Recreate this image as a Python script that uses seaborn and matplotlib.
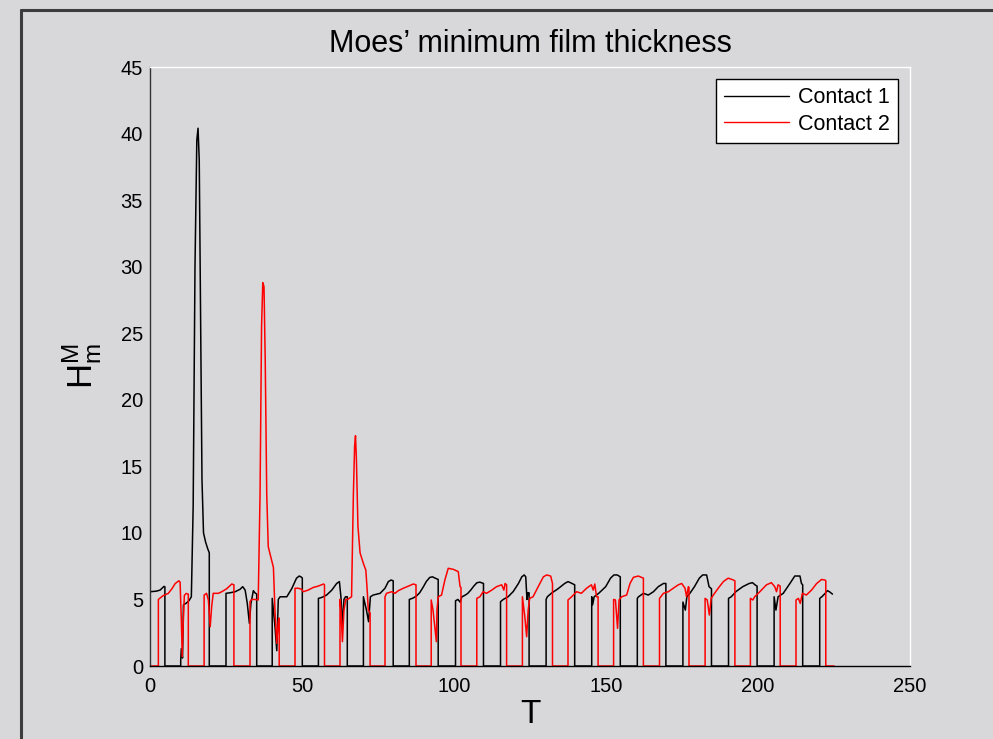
import matplotlib
matplotlib.use("Agg")
import matplotlib.pyplot as plt
import seaborn as sns
import pandas as pd
from matplotlib.lines import Line2D

# ---------------------------------------------------------------------------
# Minimum film thickness per contact; each episode is one period of contact,
# given as (T, H) vertices. Between episodes the film thickness is zero.
# ---------------------------------------------------------------------------
contact1_episodes = [
    [(0.0, 5.58), (2.0, 5.62), (3.3, 5.70), (4.0, 5.85), (4.6, 5.98), (4.9, 5.95)],
    [(10.1, 0.4), (10.3, 1.3), (10.7, 0.6), (11.0, 4.6), (11.8, 4.7), (12.8, 4.9),
     (13.6, 5.2), (14.2, 12.0), (14.8, 30.0), (15.4, 39.5), (15.8, 40.4), (16.2, 38.0),
     (16.7, 25.0), (17.1, 14.0), (17.6, 10.0), (18.3, 9.3), (19.0, 8.8), (19.5, 8.5)],
    [(25.0, 5.46), (26.3, 5.5), (28.0, 5.58), (29.6, 5.76), (30.5, 5.96), (31.3, 5.7),
     (32.0, 4.7), (32.7, 3.2), (33.2, 4.7), (34.0, 5.66), (34.5, 5.5), (35.1, 5.4)],
    [(40.2, 5.08), (41.1, 3.0), (41.7, 1.15), (42.2, 5.0), (42.8, 5.2), (45.0, 5.2),
     (46.6, 5.8), (48.2, 6.6), (49.1, 6.76), (49.9, 6.66), (50.1, 6.6)],
    [(55.4, 5.08), (56.5, 5.15), (58.1, 5.33), (59.8, 5.7), (61.4, 6.2), (62.3, 6.34),
     (62.8, 5.2), (63.3, 3.1), (63.8, 5.0), (64.3, 5.2), (64.9, 5.2)],
    [(70.2, 5.2), (71.2, 4.2), (71.9, 3.33), (72.5, 5.2), (73.4, 5.33), (75.7, 5.46),
     (77.3, 5.84), (78.4, 6.34), (79.3, 6.46), (80.0, 6.4)],
    [(85.3, 5.0), (86.5, 5.1), (87.6, 5.25), (88.7, 5.5), (89.8, 5.9), (90.9, 6.35),
     (92.0, 6.65), (92.9, 6.7), (93.8, 6.6), (94.8, 6.5)],
    [(100.5, 4.9), (101.3, 5.0), (102.0, 4.8), (102.6, 5.2), (103.5, 5.3), (104.5, 5.45),
     (105.5, 5.7), (106.5, 6.0), (107.5, 6.25), (108.5, 6.3), (109.7, 6.2)],
    [(115.3, 4.83), (116.2, 5.0), (117.8, 5.2), (119.5, 5.6), (121.2, 6.2), (122.3, 6.7),
     (123.1, 6.84), (123.6, 6.7), (124.0, 5.0), (124.3, 5.5), (124.7, 5.5)],
    [(130.3, 5.0), (130.7, 5.2), (132.0, 5.46), (134.2, 5.8), (136.4, 6.2), (137.5, 6.34),
     (138.3, 6.26), (139.7, 6.1)],
    [(145.3, 5.2), (145.6, 4.6), (146.1, 5.2), (147.6, 5.46), (149.9, 5.96), (151.5, 6.6),
     (152.6, 6.84), (153.7, 6.84), (154.7, 6.7)],
    [(160.3, 5.08), (160.7, 5.2), (162.3, 5.46), (163.9, 5.33), (165.6, 5.58), (167.2, 5.96),
     (168.9, 6.2), (169.7, 6.2)],
    [(175.3, 4.8), (176.1, 4.2), (176.6, 5.2), (177.6, 5.46), (179.1, 5.96), (180.7, 6.6),
     (181.8, 6.84), (183.1, 6.84), (183.9, 5.96), (184.7, 5.8)],
    [(190.3, 5.08), (191.2, 5.2), (192.8, 5.6), (195.0, 5.96), (197.1, 6.2), (198.2, 6.26),
     (199.0, 6.1), (199.7, 6.0)],
    [(205.3, 5.2), (205.9, 4.2), (206.6, 5.2), (208.3, 5.46), (210.5, 6.2), (212.1, 6.76),
     (213.8, 6.76), (214.3, 6.2), (214.7, 6.1)],
    [(220.3, 5.08), (221.0, 5.2), (222.1, 5.46), (222.8, 5.66), (223.5, 5.58), (224.5, 5.4)],
]

contact2_episodes = [
    [(2.75, 5.0), (4.4, 5.3), (6.0, 5.45), (7.2, 5.8), (8.3, 6.2), (9.5, 6.4), (9.9, 6.3),
     (10.3, 3.5), (10.6, 0.7), (10.9, 3.0), (11.3, 5.3), (11.9, 5.45), (12.6, 5.4)],
    [(17.8, 5.33), (18.6, 5.46), (19.2, 4.96), (19.8, 2.95), (20.3, 4.5), (20.8, 5.46),
     (22.5, 5.46), (23.6, 5.58), (25.2, 5.8), (26.9, 6.16), (27.6, 6.1)],
    [(32.9, 4.83), (33.4, 5.0), (34.5, 5.0), (35.6, 4.96), (36.2, 12.9), (36.7, 25.5),
     (37.1, 28.8), (37.5, 28.5), (37.9, 23.0), (38.4, 12.9), (38.9, 8.96), (40.0, 7.96),
     (40.6, 7.4), (41.1, 4.2), (41.7, 1.7), (42.2, 3.4), (42.5, 3.6)],
    [(47.7, 5.84), (48.8, 5.84), (49.9, 5.76), (50.4, 5.58), (52.0, 5.7), (53.7, 5.9),
     (55.3, 6.0), (57.1, 6.16), (57.4, 6.1)],
    [(62.5, 5.0), (62.8, 4.2), (63.3, 1.83), (63.8, 4.2), (64.4, 5.0), (65.0, 5.0),
     (66.3, 5.2), (66.9, 12.9), (67.3, 16.5), (67.6, 17.3), (67.9, 15.5), (68.4, 10.5),
     (69.1, 8.5), (70.2, 7.7), (71.0, 7.2), (71.5, 5.5), (71.8, 4.2), (72.4, 4.0)],
    [(77.3, 5.2), (77.8, 5.46), (79.5, 5.58), (80.6, 5.46), (81.7, 5.66), (83.3, 5.84),
     (85.0, 6.0), (86.6, 6.16), (87.5, 6.1)],
    [(92.5, 4.96), (93.1, 4.2), (94.2, 1.83), (94.4, 4.2), (94.8, 5.2), (95.9, 5.33),
     (97.0, 6.46), (98.1, 7.34), (99.8, 7.26), (101.4, 7.09), (102.0, 5.96), (102.3, 5.9)],
    [(107.5, 5.08), (108.5, 5.2), (109.6, 5.58), (110.7, 5.46), (112.4, 5.7), (114.0, 5.96),
     (115.7, 6.1), (116.4, 5.7), (116.8, 6.2), (117.3, 6.1)],
    [(122.5, 5.2), (123.3, 3.7), (123.9, 2.2), (124.4, 4.2), (124.9, 5.08), (126.0, 5.2),
     (127.7, 5.96), (129.4, 6.7), (130.5, 6.84), (131.8, 6.76), (132.4, 6.2)],
    [(137.5, 4.96), (138.7, 5.2), (140.3, 5.58), (141.9, 5.46), (143.6, 5.84), (145.2, 6.1),
     (145.8, 5.7), (146.3, 6.16), (146.9, 5.2), (147.4, 5.2)],
    [(152.5, 5.0), (153.1, 4.96), (153.8, 2.83), (154.3, 4.96), (155.1, 5.2), (156.8, 5.33),
     (157.9, 6.2), (159.0, 6.66), (160.6, 6.76), (161.7, 6.66), (162.3, 6.6)],
    [(167.6, 5.08), (168.9, 5.46), (170.5, 5.58), (172.1, 5.84), (173.8, 6.1), (174.9, 6.2),
     (176.0, 5.84), (176.5, 5.2), (177.1, 5.96), (177.3, 5.9)],
    [(182.6, 5.08), (183.3, 4.96), (184.0, 3.83), (184.6, 5.08), (185.3, 5.33), (186.9, 5.84),
     (188.6, 6.34), (190.2, 6.6), (191.9, 6.46), (192.4, 6.4)],
    [(197.5, 5.08), (198.3, 4.96), (198.9, 5.2), (200.6, 5.58), (202.8, 6.1), (204.4, 6.26),
     (205.5, 5.96), (206.1, 5.58), (206.6, 6.1), (207.3, 6.0)],
    [(212.5, 4.96), (213.3, 5.08), (213.9, 4.7), (214.6, 5.46), (215.9, 5.33), (217.6, 5.7),
     (219.3, 6.2), (220.9, 6.5), (222.0, 6.46), (222.3, 6.4)],
]

contact1_end = 224.5
contact2_end = 225.0
series_names = ["Contact 1", "Contact 2"]
series_colors = ["black", "red"]

x_ticks = [0, 50, 100, 150, 200, 250]
y_ticks = [0, 5, 10, 15, 20, 25, 30, 35, 40, 45]


def build_trace(episodes, end_t):
    """Join contact episodes into one trace with vertical steps to zero."""
    ts, hs = [], []
    for ep in episodes:
        t0, h0 = ep[0]
        if t0 > 0:
            ts.append(t0)
            hs.append(0.0)
        for t, h in ep:
            ts.append(t)
            hs.append(h)
        t1 = ep[-1][0]
        if t1 < end_t:
            ts.append(t1)
            hs.append(0.0)
    if hs[-1] == 0.0 and ts[-1] < end_t:
        ts.append(end_t)
        hs.append(0.0)
    if episodes[0][0][0] > 0:
        ts.insert(0, 0.0)
        hs.insert(0, 0.0)
    return ts, hs


frames = []
for name, eps, end in zip(series_names,
                          [contact1_episodes, contact2_episodes],
                          [contact1_end, contact2_end]):
    t, h = build_trace(eps, end)
    frames.append(pd.DataFrame({"T": t, "H": h, "contact": name}))
df = pd.concat(frames, ignore_index=True)

# ---------------------------------------------------------------------------
sns.set_theme(style="white")
plt.rcParams["font.family"] = ["Liberation Sans", "DejaVu Sans"]
plt.rcParams["mathtext.fontset"] = "custom"
plt.rcParams["mathtext.rm"] = "Liberation Sans"
plt.rcParams["mathtext.it"] = "Liberation Sans"
plt.rcParams["text.color"] = "black"
plt.rcParams["axes.labelcolor"] = "black"
plt.rcParams["xtick.color"] = "black"
plt.rcParams["ytick.color"] = "black"

bg = "#d8d8db"
fig = plt.figure(figsize=(9.93, 7.39), dpi=100, facecolor=bg)
ax = fig.add_axes([150 / 993, 1 - 666 / 739, 760 / 993, 599 / 739])
ax.set_facecolor(bg)

sns.lineplot(data=df, x="T", y="H", hue="contact", hue_order=series_names,
             palette=dict(zip(series_names, series_colors)),
             sort=False, estimator=None, linewidth=1.1, ax=ax, legend=False)

ax.set_xlim(0, 250)
ax.set_ylim(0, 45)
ax.set_xticks(x_ticks)
ax.set_yticks(y_ticks)
ax.tick_params(axis="both", direction="in", length=5, width=0.8, labelsize=14.5,
               colors="black")
ax.tick_params(axis="x", pad=8)
ax.tick_params(axis="y", pad=5)

for side in ("top", "right"):
    ax.spines[side].set_color("white")
    ax.spines[side].set_linewidth(1.0)
ax.spines["left"].set_color("#333333")
ax.spines["bottom"].set_color("black")
for side in ("left", "bottom"):
    ax.spines[side].set_linewidth(1.0)

ax.set_title("Moes\u2019 minimum film thickness", fontsize=22, pad=11, color="black")
ax.set_xlabel("T", fontsize=24, labelpad=2)
ax.set_ylabel(r"$\mathregular{H_m^M}$", fontsize=25, labelpad=12)

handles = [Line2D([], [], color=c, lw=1.0) for c in series_colors]
leg = ax.legend(handles, series_names, loc="upper right", fontsize=15.5,
                frameon=True, fancybox=False, facecolor="white", edgecolor="black",
                framealpha=1.0, handlelength=3.0, handletextpad=0.4,
                labelspacing=0.25, borderpad=0.4, borderaxespad=0.55)
leg.get_frame().set_linewidth(1.0)

# page frame
fig.add_artist(Line2D([21 / 993, 21 / 993], [0, 1 - 10 / 739],
                      transform=fig.transFigure, color="#3c3c3c", lw=2.2))
fig.add_artist(Line2D([21 / 993, 1], [1 - 10 / 739, 1 - 10 / 739],
                      transform=fig.transFigure, color="#3c3c3c", lw=2.2))

fig.savefig("out.png", dpi=100, facecolor=bg)
